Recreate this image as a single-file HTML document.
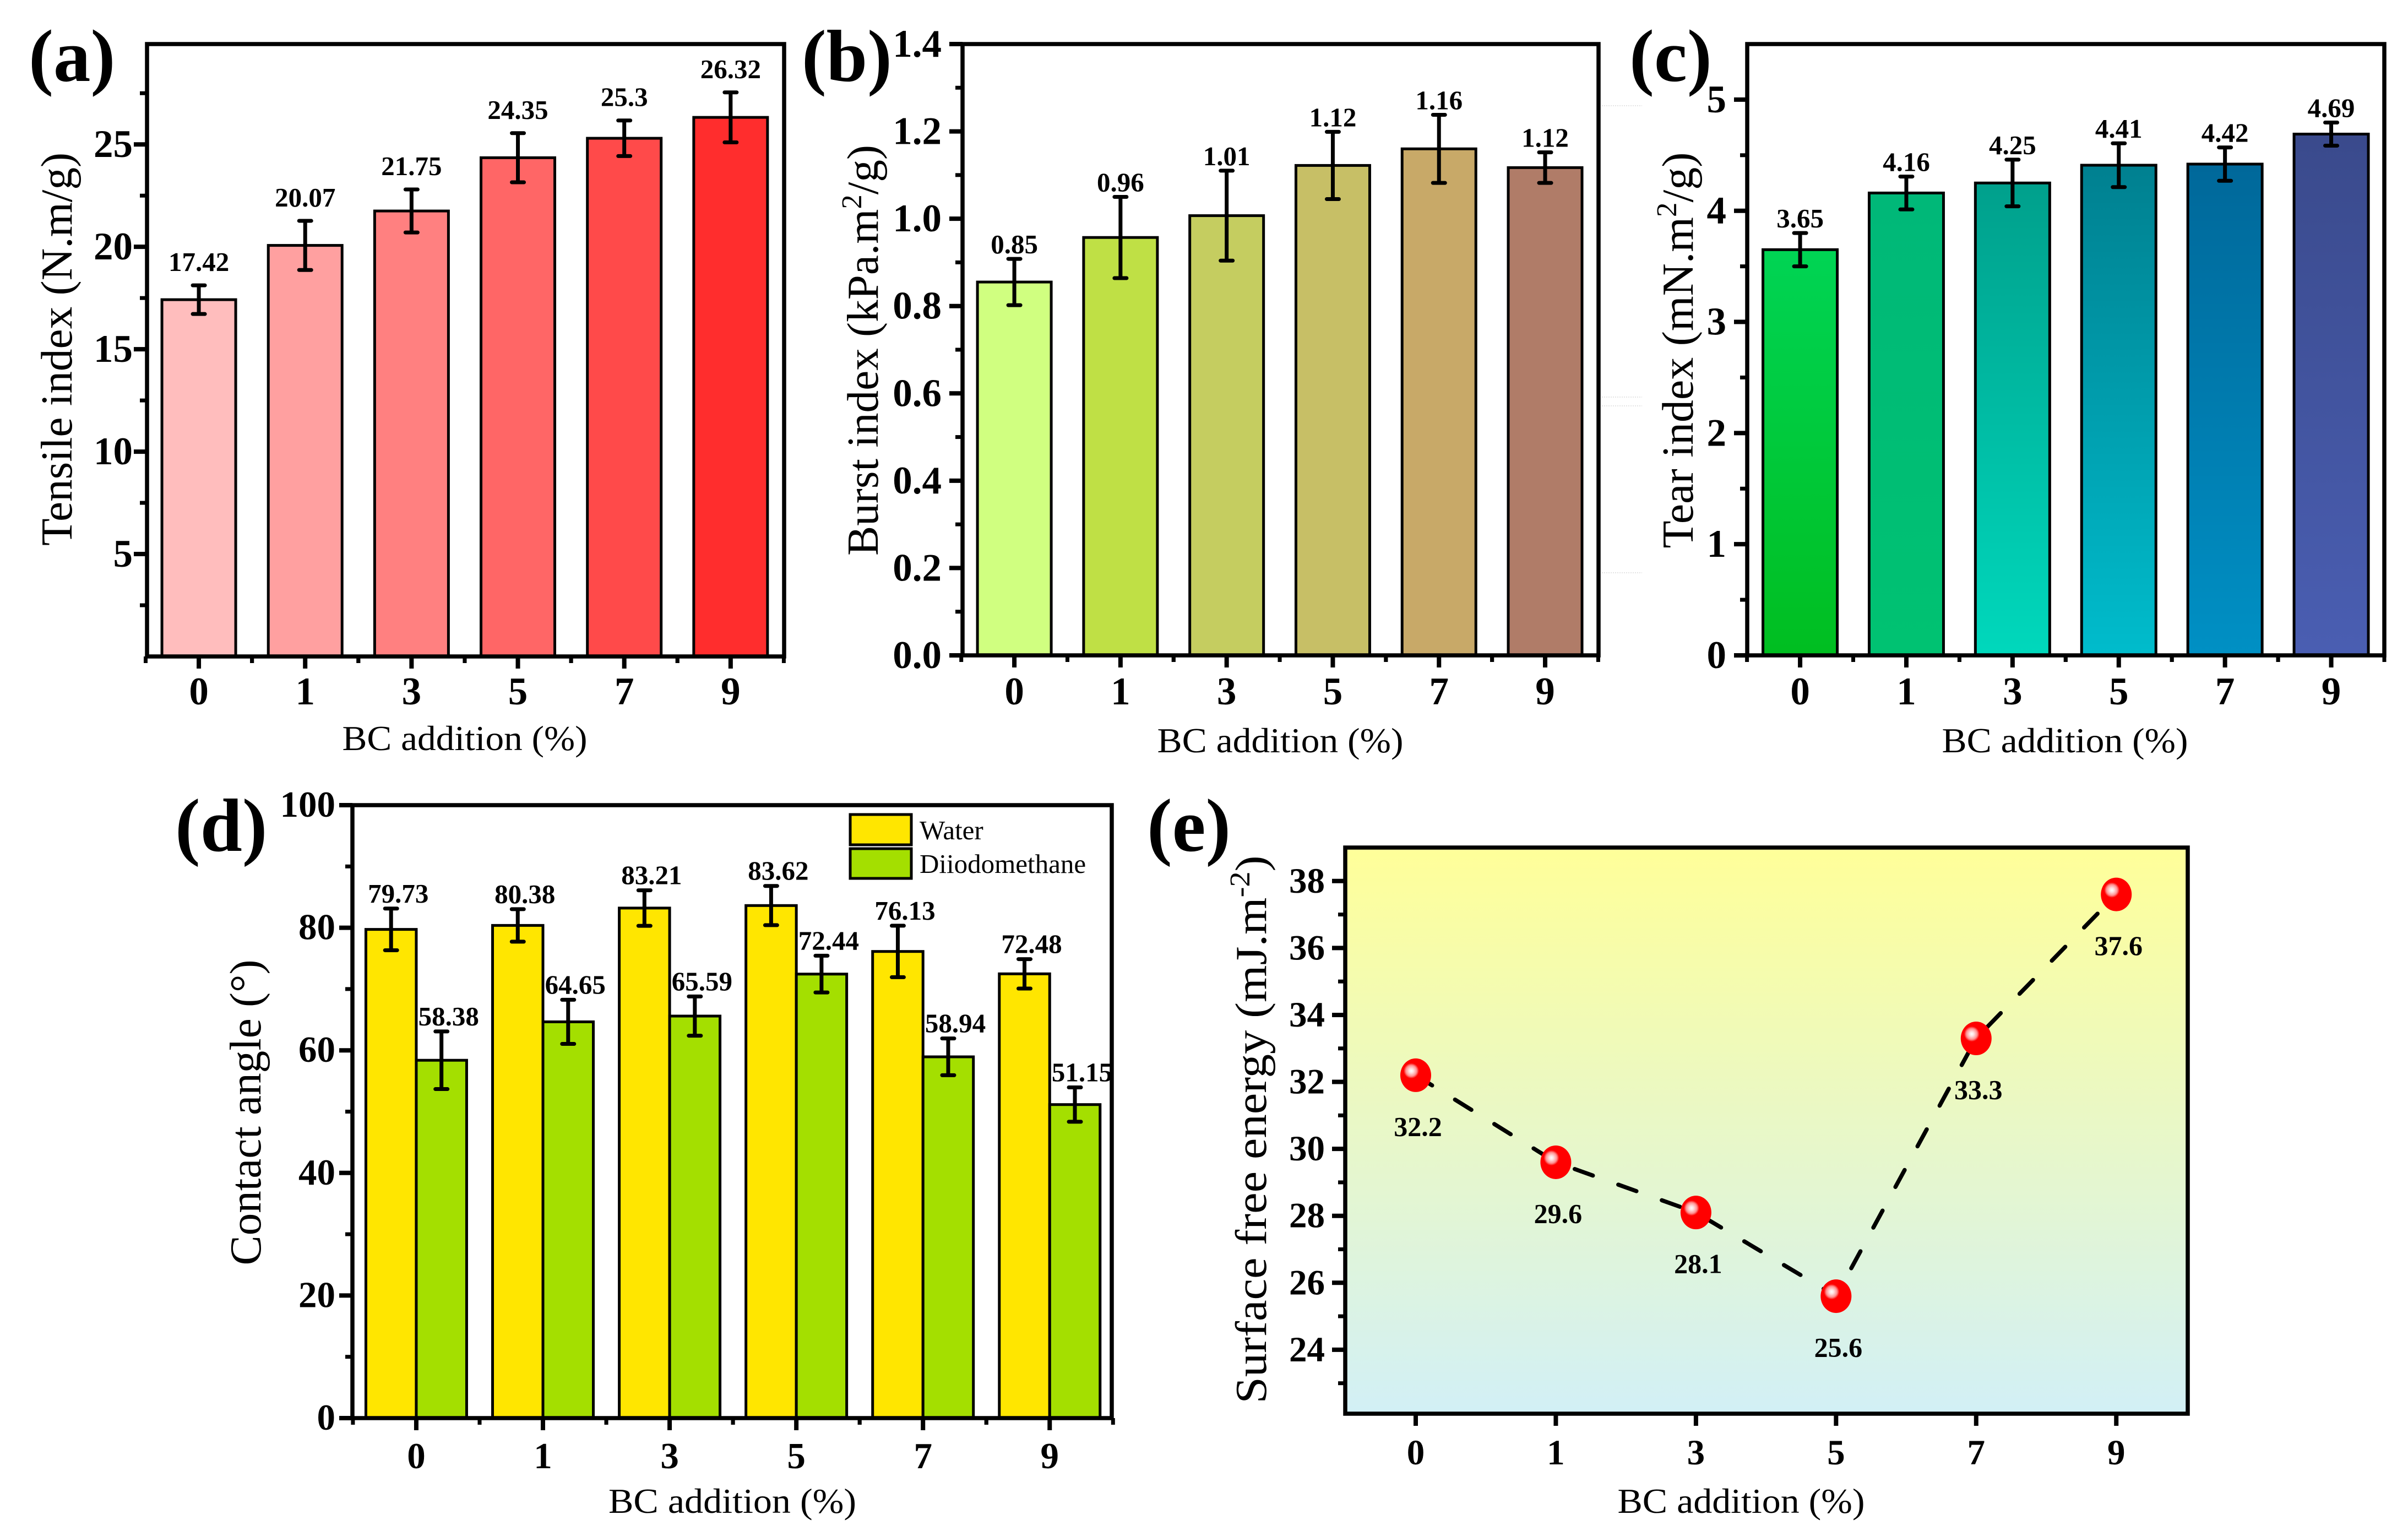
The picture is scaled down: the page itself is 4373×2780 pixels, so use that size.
<!DOCTYPE html>
<html lang="en">
<head>
<meta charset="utf-8">
<title>BC addition charts</title>
<style>
html,body{margin:0;padding:0;background:#fff;}
svg{display:block;}
text{font-family:"Liberation Serif",serif;fill:#000;}
.b{font-weight:bold;}
</style>
</head>
<body>
<svg id="figure" xmlns="http://www.w3.org/2000/svg" width="4373" height="2780" viewBox="0 0 4373 2780">
  <defs>
    <linearGradient id="tear0" x1="0" y1="0" x2="0" y2="1"><stop offset="0" stop-color="#00D454"/><stop offset="1" stop-color="#00BE20"/></linearGradient>
    <linearGradient id="tear1" x1="0" y1="0" x2="0" y2="1"><stop offset="0" stop-color="#00B878"/><stop offset="1" stop-color="#00C272"/></linearGradient>
    <linearGradient id="tear2" x1="0" y1="0" x2="0" y2="1"><stop offset="0" stop-color="#00A08C"/><stop offset="1" stop-color="#00D8BC"/></linearGradient>
    <linearGradient id="tear3" x1="0" y1="0" x2="0" y2="1"><stop offset="0" stop-color="#008090"/><stop offset="1" stop-color="#00BCCC"/></linearGradient>
    <linearGradient id="tear4" x1="0" y1="0" x2="0" y2="1"><stop offset="0" stop-color="#00689A"/><stop offset="1" stop-color="#0090C4"/></linearGradient>
    <linearGradient id="tear5" x1="0" y1="0" x2="0" y2="1"><stop offset="0" stop-color="#3A4A8C"/><stop offset="1" stop-color="#4A5EB2"/></linearGradient>
    <linearGradient id="plotBg" x1="0" y1="0" x2="0" y2="1"><stop offset="0" stop-color="#FFFF99"/><stop offset="1" stop-color="#D2F0F6"/></linearGradient>
    <radialGradient id="sphereGlow" cx="0.5" cy="0.5" r="0.5">
      <stop offset="0" stop-color="#ffffff"/>
      <stop offset="0.28" stop-color="#ffe0e0"/>
      <stop offset="0.7" stop-color="#ff9090"/>
      <stop offset="1" stop-color="#ff0000"/>
    </radialGradient>
  </defs>

  <g stroke="#dcdcdc" stroke-width="1.5" stroke-dasharray="2 2">
    <line x1="2909" y1="192" x2="2982" y2="192"/>
    <line x1="2909" y1="721" x2="2982" y2="721"/>
    <line x1="2909" y1="737" x2="2982" y2="737"/>
    <line x1="2909" y1="1040" x2="2982" y2="1040"/>
  </g>

  <g id="panelA"></g>
  <g id="panelB"></g>
  <g id="panelC"></g>
  <g id="panelD"></g>
  <g id="panelE"></g>

  <text class="b" x="52" y="147" font-size="135">(a)</text>
  <text class="b" x="1456" y="147" font-size="134">(b)</text>
  <text class="b" x="2959" y="147" font-size="135">(c)</text>
  <text class="b" x="318" y="1545" font-size="137">(d)</text>
  <text class="b" x="2083" y="1545" font-size="137">(e)</text>

  <text x="844" y="1362" font-size="64" text-anchor="middle" textLength="445" lengthAdjust="spacingAndGlyphs">BC addition (%)</text>
  <text x="2325" y="1366" font-size="64" text-anchor="middle" textLength="447" lengthAdjust="spacingAndGlyphs">BC addition (%)</text>
  <text x="3750" y="1366" font-size="64" text-anchor="middle" textLength="447" lengthAdjust="spacingAndGlyphs">BC addition (%)</text>
  <text x="1330" y="2747" font-size="64" text-anchor="middle" textLength="450" lengthAdjust="spacingAndGlyphs">BC addition (%)</text>
  <text x="3162" y="2747" font-size="64" text-anchor="middle" textLength="449" lengthAdjust="spacingAndGlyphs">BC addition (%)</text>

  <text transform="rotate(-90 130 634)" x="130" y="634" font-size="80" text-anchor="middle" textLength="714" lengthAdjust="spacingAndGlyphs">Tensile index (N.m/g)</text>
  <text transform="rotate(-90 1594 636)" x="1594" y="636" font-size="80" text-anchor="middle" textLength="746" lengthAdjust="spacingAndGlyphs">Burst index (kPa.m<tspan font-size="52" dy="-30">2</tspan><tspan dy="30">/g)</tspan></text>
  <text transform="rotate(-90 3074 636)" x="3074" y="636" font-size="80" text-anchor="middle" textLength="719" lengthAdjust="spacingAndGlyphs">Tear index (mN.m<tspan font-size="52" dy="-30">2</tspan><tspan dy="30">/g)</tspan></text>
  <text transform="rotate(-90 473 2020)" x="473" y="2020" font-size="80" text-anchor="middle" textLength="555" lengthAdjust="spacingAndGlyphs">Contact angle (°)</text>
  <text transform="rotate(-90 2299 2051)" x="2299" y="2051" font-size="80" text-anchor="middle" textLength="995" lengthAdjust="spacingAndGlyphs">Surface free energy (mJ.m<tspan font-size="52" dy="-30">-2</tspan><tspan dy="30">)</tspan></text>

  <g>
    <rect x="1544" y="1479" width="111" height="55" fill="#FFE600" stroke="#000" stroke-width="5"/>
    <rect x="1544" y="1541" width="111" height="54" fill="#A4DF00" stroke="#000" stroke-width="5"/>
    <text x="1670" y="1524" font-size="49">Water</text>
    <text x="1670" y="1585" font-size="49">Diiodomethane</text>
  </g>
</svg>

<script>
// ---- chart data ----
const categories = ['0', '1', '3', '5', '7', '9'];

const tensileValues = [17.42, 20.07, 21.75, 24.35, 25.3, 26.32];
const tensileErrors = [0.7, 1.2, 1.05, 1.2, 0.87, 1.22];
const tensileLabels = ['17.42', '20.07', '21.75', '24.35', '25.3', '26.32'];
const tensileTicks = [5, 10, 15, 20, 25];
const tensileMinorTicks = [2.5, 7.5, 12.5, 17.5, 22.5, 27.5];

const burstValues = [0.855, 0.957, 1.007, 1.122, 1.16, 1.117];
const burstErrors = [0.053, 0.093, 0.103, 0.077, 0.078, 0.035];
const burstLabels = ['0.85', '0.96', '1.01', '1.12', '1.16', '1.12'];
const burstTicks = ['0.0', '0.2', '0.4', '0.6', '0.8', '1.0', '1.2', '1.4'];
const burstMinorTicks = [0.1, 0.3, 0.5, 0.7, 0.9, 1.1, 1.3];

const tearValues = [3.65, 4.16, 4.25, 4.41, 4.42, 4.69];
const tearErrors = [0.15, 0.148, 0.21, 0.197, 0.15, 0.104];
const tearLabels = ['3.65', '4.16', '4.25', '4.41', '4.42', '4.69'];
const tearTicks = [0, 1, 2, 3, 4, 5];
const tearMinorTicks = [0.5, 1.5, 2.5, 3.5, 4.5];

const waterValues = [79.73, 80.38, 83.21, 83.62, 76.13, 72.48];
const waterErrors = [3.4, 2.65, 2.9, 3.2, 4.2, 2.4];
const waterLabels = ['79.73', '80.38', '83.21', '83.62', '76.13', '72.48'];
const diiodoValues = [58.38, 64.65, 65.59, 72.44, 58.94, 51.15];
const diiodoErrors = [4.7, 3.6, 3.2, 3.0, 3.0, 2.8];
const diiodoLabels = ['58.38', '64.65', '65.59', '72.44', '58.94', '51.15'];
const angleTicks = [0, 20, 40, 60, 80, 100];
const angleMinorTicks = [10, 30, 50, 70, 90];

const energyValues = [32.2, 29.6, 28.1, 25.6, 33.3, 37.6];
const energyLabels = ['32.2', '29.6', '28.1', '25.6', '33.3', '37.6'];
const energyTicks = [24, 26, 28, 30, 32, 34, 36, 38];
const energyMinorTicks = [23, 25, 27, 29, 31, 33, 35, 37];

// ---- palettes ----
const tensileFills = ['#FFBDBD', '#FFA0A0', '#FF8080', '#FF6666', '#FF4A4A', '#FF2D2D'];
const burstFills = ['#D0FF80', '#BFE045', '#C5CD60', '#C7BF66', '#C8A968', '#B07C68'];
const tearFills = ['url(#tear0)', 'url(#tear1)', 'url(#tear2)', 'url(#tear3)', 'url(#tear4)', 'url(#tear5)'];

// ---- helpers ----
const NS = 'http://www.w3.org/2000/svg';
function make(tag, parent, props, txt) {
  const node = document.createElementNS(NS, tag);
  for (const k in props) node.setAttribute(k, props[k]);
  if (txt !== undefined) node.textContent = txt;
  parent.appendChild(node);
  return node;
}
function linear(d0, d1, r0, r1) {
  return function (v) { return r0 + (v - d0) / (d1 - d0) * (r1 - r0); };
}

function drawFrame(g, box, y, x, ticks, minorTicks, opt) {
  const frame = make('rect', g, {x: box.l, y: box.t, width: box.r - box.l, height: box.b - box.t, fill: 'none', stroke: '#000', 'stroke-width': 7.5});
  
  
  ticks.forEach(function (t) {
    const py = y(Number(t));
    const tick = make('line', g, {x1: box.l - 24, x2: box.l, y1: py, y2: py, stroke: '#000', 'stroke-width': 8});
    
    
    const lab = make('text', g, {x: opt.yLabelX, y: py + opt.yLabelDy, 'font-size': opt.tickFont, 'font-weight': 'bold', 'text-anchor': 'end'}, String(t));
    
    
  });
  minorTicks.forEach(function (t) {
    const py = y(t);
    const tick = make('line', g, {x1: box.l - 13, x2: box.l, y1: py, y2: py, stroke: '#000', 'stroke-width': 7});
    
    
  });
  categories.forEach(function (c, i) {
    const px = x(i);
    const tick = make('line', g, {x1: px, x2: px, y1: box.b, y2: box.b + 22, stroke: '#000', 'stroke-width': 8});
    
    
    const lab = make('text', g, {x: px, y: opt.xLabelY, 'font-size': opt.tickFont, 'font-weight': 'bold', 'text-anchor': 'middle'}, c);
    
    
    if (opt.xMinor) {
      [i - 0.5, i + 0.5].forEach(function (m) {
        const mt = make('line', g, {x1: x(m), x2: x(m), y1: box.b, y2: box.b + 12, stroke: '#000', 'stroke-width': 7});
        
        
      });
    }
  });
}

function drawBars(g, values, errors, labels, fills, x, y, s) {
  values.forEach(function (v, i) {
    const cx = x(i) + s.shift;
    const top = y(v);
    const bar = make('rect', g, {x: cx - s.width / 2, y: top, width: s.width, height: y(0) - top, fill: fills[i % fills.length], stroke: '#000', 'stroke-width': 5});
    
    
    const hi = y(v + errors[i]);
    const lo = y(v - errors[i]);
    const d = 'M' + cx + ' ' + hi + 'V' + lo + 'M' + (cx - 11) + ' ' + hi + 'H' + (cx + 11) + 'M' + (cx - 11) + ' ' + lo + 'H' + (cx + 11);
    const err = make('path', g, {d: d, fill: 'none', stroke: '#000', 'stroke-width': 7, 'stroke-linecap': 'round'});
    
    
  });
  values.forEach(function (v, i) {
    const cx = x(i) + s.shift;
    const hi = y(v + errors[i]);
    const lab = make('text', g, {x: cx + s.labelShift, y: hi - s.labelGap, 'font-size': 49, 'font-weight': 'bold', 'text-anchor': 'middle'}, labels[i]);
    
    
  });
}

// ---- panel a ----
(function () {
  const g = document.getElementById('panelA');
  const box = {l: 267, r: 1424, t: 80, b: 1192};
  const y = linear(0, 29.9, box.b, box.t);
  const x = linear(-0.487, 5.503, box.l, box.r);
  drawBars(g, tensileValues, tensileErrors, tensileLabels, tensileFills, x, y, {width: 134, shift: 0, labelShift: 0, labelGap: 26});
  drawFrame(g, box, y, x, tensileTicks, tensileMinorTicks, {yLabelX: 241, yLabelDy: 23, xLabelY: 1279, tickFont: 71, xMinor: true});
})();

// ---- panel b ----
(function () {
  const g = document.getElementById('panelB');
  const box = {l: 1748, r: 2903, t: 80, b: 1190};
  const y = linear(0, 1.4, box.b, box.t);
  const x = linear(-0.488, 5.503, box.l, box.r);
  drawBars(g, burstValues, burstErrors, burstLabels, burstFills, x, y, {width: 134, shift: 0, labelShift: 0, labelGap: 10});
  drawFrame(g, box, y, x, burstTicks, burstMinorTicks, {yLabelX: 1710, yLabelDy: 23, xLabelY: 1279, tickFont: 71, xMinor: true});
})();

// ---- panel c ----
(function () {
  const g = document.getElementById('panelC');
  const box = {l: 3173, r: 4330, t: 80, b: 1190};
  const y = linear(0, 5.5, box.b, box.t);
  const x = linear(-0.498, 5.5, box.l, box.r);
  drawBars(g, tearValues, tearErrors, tearLabels, tearFills, x, y, {width: 135, shift: 0, labelShift: 0, labelGap: 10});
  drawFrame(g, box, y, x, tearTicks, tearMinorTicks, {yLabelX: 3135, yLabelDy: 23, xLabelY: 1279, tickFont: 71, xMinor: true});
})();

// ---- panel d ----
(function () {
  const g = document.getElementById('panelD');
  const box = {l: 640, r: 2019, t: 1462, b: 2575};
  const y = linear(0, 100, box.b, box.t);
  const x = linear(-0.504, 5.49, box.l, box.r);
  drawBars(g, waterValues, waterErrors, waterLabels, ['#FFE600'], x, y, {width: 91.5, shift: -45.75, labelShift: 13, labelGap: 11});
  drawBars(g, diiodoValues, diiodoErrors, diiodoLabels, ['#A4DF00'], x, y, {width: 91.5, shift: 45.75, labelShift: 13, labelGap: 11});
  drawFrame(g, box, y, x, angleTicks, angleMinorTicks, {yLabelX: 609, yLabelDy: 21, xLabelY: 2666, tickFont: 67, xMinor: true});
})();

// ---- panel e ----
(function () {
  const g = document.getElementById('panelE');
  const box = {l: 2443, r: 3973, t: 1539, b: 2567};
  const y = linear(22.09, 39, box.b, box.t);
  const x = linear(-0.503, 5.51, box.l, box.r);
  const bg = make('rect', g, {x: box.l, y: box.t, width: box.r - box.l, height: box.b - box.t, fill: 'url(#plotBg)'});
  
  
  const pts = energyValues.map(function (v, i) { return x(i) + ',' + y(v); }).join(' ');
  const line = make('polyline', g, {points: pts, fill: 'none', stroke: '#000', 'stroke-width': 7.5, 'stroke-dasharray': '35 49', 'stroke-linecap': 'round'});
  
  
  energyValues.forEach(function (v, i) {
    const marker = make('ellipse', g, {cx: x(i), cy: y(v), rx: 28, ry: 30.5, fill: '#FF0000'});
    
    
    const glow = make('circle', g, {cx: x(i) - 8, cy: y(v) - 8, r: 14, fill: 'url(#sphereGlow)'});
    
    
    const lab = make('text', g, {x: x(i) + 4, y: y(v) + 110, 'font-size': 50, 'font-weight': 'bold', 'text-anchor': 'middle'}, energyLabels[i]);
    
    
  });
  drawFrame(g, box, y, x, energyTicks, energyMinorTicks, {yLabelX: 2406, yLabelDy: 21, xLabelY: 2659, tickFont: 65, xMinor: false});
})();
</script>
</body>
</html>
